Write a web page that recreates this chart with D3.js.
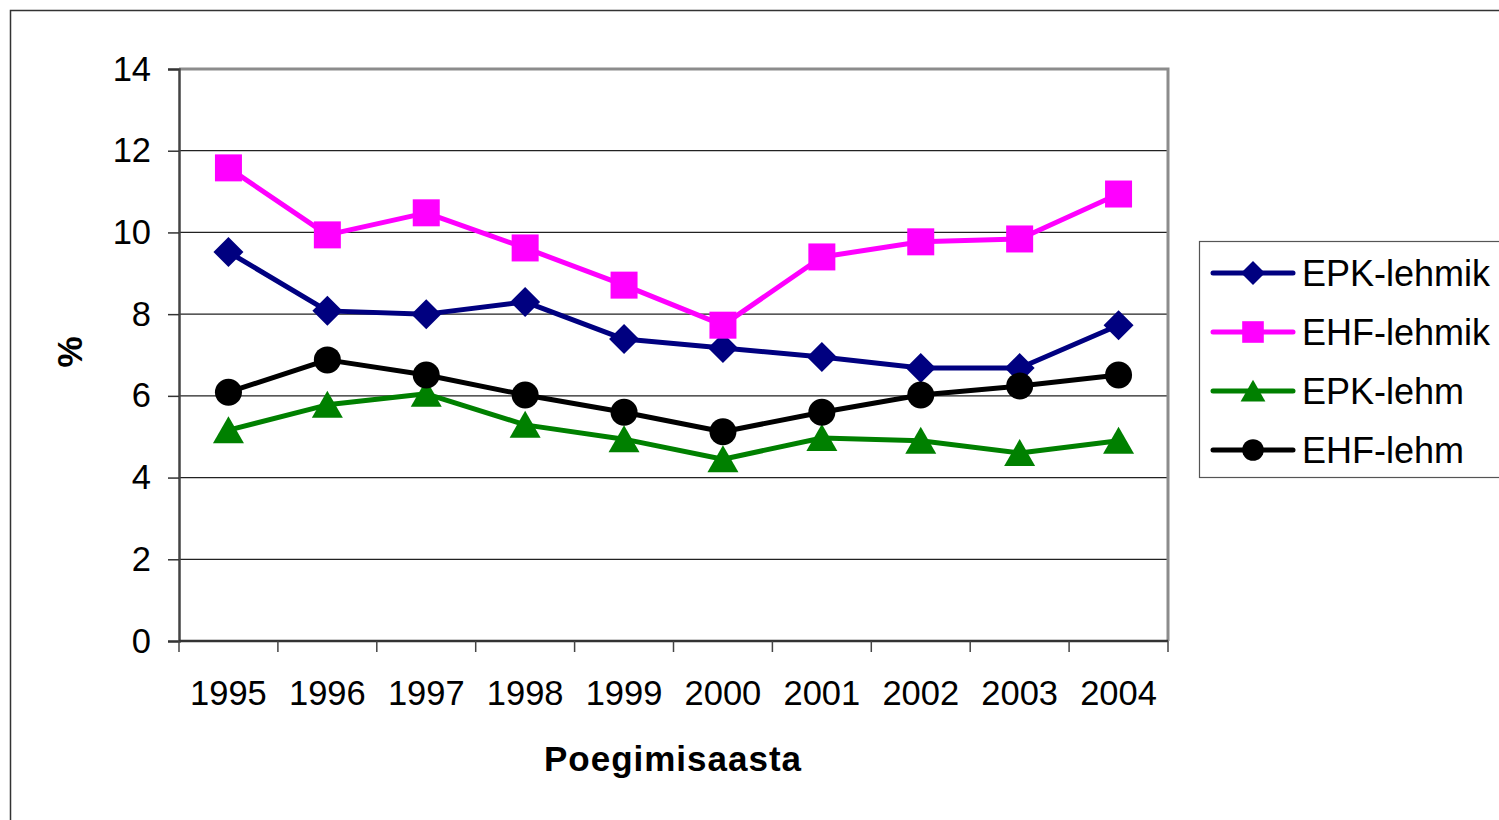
<!DOCTYPE html>
<html>
<head>
<meta charset="utf-8">
<script src="https://d3js.org/d3.v7.min.js"></script>
<style>
    body { margin: 0; background: #fff; }
    text { font-family: "Liberation Sans", Arial, sans-serif; }
</style>
</head>
<body>
<div id="chart"></div>
<script>
// Data
var years = ["1995", "1996", "1997", "1998", "1999", "2000", "2001", "2002", "2003", "2004"];
var epkLehmik = [9.52, 8.08, 8.0, 8.3, 7.39, 7.17, 6.95, 6.68, 6.68, 7.73];
var ehfLehmik = [11.58, 9.94, 10.48, 9.62, 8.71, 7.73, 9.4, 9.77, 9.84, 10.94];
var epkLehm = [5.16, 5.78, 6.05, 5.29, 4.94, 4.45, 4.97, 4.9, 4.6, 4.9];
var ehfLehm = [6.09, 6.88, 6.51, 6.02, 5.6, 5.12, 5.6, 6.02, 6.24, 6.51];
var seriesNames = ["EPK-lehmik", "EHF-lehmik", "EPK-lehm", "EHF-lehm"];
var seriesColors = ["#000080", "#ff00ff", "#008000", "#000000"];
var seriesSymbols = ["diamond", "square", "triangle", "circle"];
var yTicks = [0, 2, 4, 6, 8, 10, 12, 14];

LineChart = function(_parentElement){
    vis = this;
    this.parentElement = _parentElement;
    this.svgWidth = 1499;
    this.svgHeight = 820;
    this.plot = { left: 179, top: 69, right: 1168, bottom: 641 };
    this.fontSize = 34.5;
    this.series = [epkLehmik, ehfLehmik, epkLehm, ehfLehm];
    this.initVis();
};

LineChart.prototype.initVis = function() {
    vis = this;

    vis.svg = d3.select("#" + vis.parentElement).append("svg")
        .attr("width", vis.svgWidth)
        .attr("height", vis.svgHeight);

    // outer chart frame
    vis.svg.append("rect")
        .attr("x", 10.5).attr("y", 10.5)
        .attr("width", 1520).attr("height", 840)
        .attr("fill", "#fff")
        .attr("stroke", "#333").attr("stroke-width", 1.5);

    vis.x = d3.scaleBand()
        .domain(years)
        .range([vis.plot.left, vis.plot.right]);

    vis.y = d3.scaleLinear()
        .domain([0, 14])
        .range([vis.plot.bottom, vis.plot.top]);

    vis.drawAxes();
    vis.drawSeries();
    vis.drawLegend();
};

LineChart.prototype.drawAxes = function() {
    vis = this;
    var p = vis.plot;

    // gridlines
    vis.svg.append("g").selectAll("line")
        .data(yTicks.filter(function(d){ return d > 0 && d < 14; }))
        .enter().append("line")
        .attr("x1", p.left).attr("x2", p.right)
        .attr("y1", function(d){ return vis.y(d); })
        .attr("y2", function(d){ return vis.y(d); })
        .attr("stroke", "#222").attr("stroke-width", 1.2);

    // top and right border of plot area
    vis.svg.append("path")
        .attr("d", "M" + p.left + "," + vis.y(14) + "H" + p.right + "V" + p.bottom)
        .attr("fill", "none").attr("stroke", "#8c8c8c").attr("stroke-width", 3);

    // y axis
    var yAxis = d3.axisLeft(vis.y).tickValues(yTicks).tickSize(11).tickPadding(17);
    var yg = vis.svg.append("g")
        .attr("transform", "translate(" + p.left + ",0)")
        .call(yAxis);
    yg.select(".domain").attr("stroke", "#444").attr("stroke-width", 2.5);
    yg.selectAll(".tick line").attr("stroke", "#333").attr("stroke-width", 1.5);
    yg.selectAll("text").attr("font-size", vis.fontSize + "px").attr("fill", "#000")
        .attr("font-family", "Liberation Sans, Arial, sans-serif");

    // x axis line
    vis.svg.append("line")
        .attr("x1", p.left).attr("x2", p.right)
        .attr("y1", p.bottom).attr("y2", p.bottom)
        .attr("stroke", "#333").attr("stroke-width", 2.5);

    // x ticks on band boundaries
    var edges = years.map(function(d){ return vis.x(d); }).concat([vis.x.range()[1]]);
    vis.svg.append("g").selectAll("line")
        .data(edges)
        .enter().append("line")
        .attr("x1", function(d){ return d; }).attr("x2", function(d){ return d; })
        .attr("y1", p.bottom).attr("y2", p.bottom + 11)
        .attr("stroke", "#444").attr("stroke-width", 1.5);

    vis.svg.append("g").selectAll("text")
        .data(years)
        .enter().append("text")
        .attr("x", function(d){ return vis.x(d) + vis.x.bandwidth() / 2; })
        .attr("y", 705)
        .attr("text-anchor", "middle")
        .attr("font-size", vis.fontSize + "px")
        .text(function(d){ return d; });

    // axis titles
    vis.svg.append("text")
        .attr("x", 673).attr("y", 771)
        .attr("text-anchor", "middle")
        .attr("font-size", "35px").attr("font-weight", "bold")
        .attr("letter-spacing", "1px")
        .text("Poegimisaasta");

    vis.svg.append("text")
        .attr("transform", "translate(82,352) rotate(-90)")
        .attr("text-anchor", "middle")
        .attr("font-size", "35px").attr("font-weight", "bold")
        .text("%");
};

LineChart.prototype.symbolPath = function(type) {
    if (type == "diamond") return "M0,-15L15,0L0,15L-15,0Z";
    if (type == "square") return d3.symbol(d3.symbolSquare, 27 * 27)();
    if (type == "triangle") return "M0,-14L15.5,13L-15.5,13Z";
    return d3.symbol(d3.symbolCircle, Math.PI * 13.5 * 13.5)();
};

LineChart.prototype.drawSeries = function() {
    vis = this;
    var cx = function(d, i){ return vis.x(years[i]) + vis.x.bandwidth() / 2; };

    var line = d3.line()
        .x(cx)
        .y(function(d){ return vis.y(d); });

    for (var s = 0; s < vis.series.length; s++) {
        var g = vis.svg.append("g");
        g.append("path")
            .datum(vis.series[s])
            .attr("d", line)
            .attr("fill", "none")
            .attr("stroke", seriesColors[s])
            .attr("stroke-width", 5)
            .attr("stroke-linejoin", "round");

        g.selectAll("path.marker")
            .data(vis.series[s])
            .enter().append("path")
            .attr("class", "marker")
            .attr("d", vis.symbolPath(seriesSymbols[s]))
            .attr("transform", function(d, i){ return "translate(" + cx(d, i) + "," + vis.y(d) + ")"; })
            .attr("fill", seriesColors[s]);
    }
};

LineChart.prototype.drawLegend = function() {
    vis = this;

    var legend = vis.svg.append("g");
    legend.append("rect")
        .attr("x", 1199.5).attr("y", 241.5)
        .attr("width", 400).attr("height", 236)
        .attr("fill", "#fff")
        .attr("stroke", "#555").attr("stroke-width", 1.2);

    var rowY = [273, 332, 391, 450];
    for (var s = 0; s < seriesNames.length; s++) {
        legend.append("line")
            .attr("x1", 1213).attr("x2", 1293)
            .attr("y1", rowY[s]).attr("y2", rowY[s])
            .attr("stroke", seriesColors[s]).attr("stroke-width", 5)
            .attr("stroke-linecap", "round");
        legend.append("path")
            .attr("d", vis.symbolPath(seriesSymbols[s]))
            .attr("transform", "translate(1253," + rowY[s] + ") scale(0.8)")
            .attr("fill", seriesColors[s]);
        legend.append("text")
            .attr("x", 1302).attr("y", rowY[s] + 13)
            .attr("font-size", "36px")
            .text(seriesNames[s]);
    }
};

new LineChart("chart");
</script>
</body>
</html>
